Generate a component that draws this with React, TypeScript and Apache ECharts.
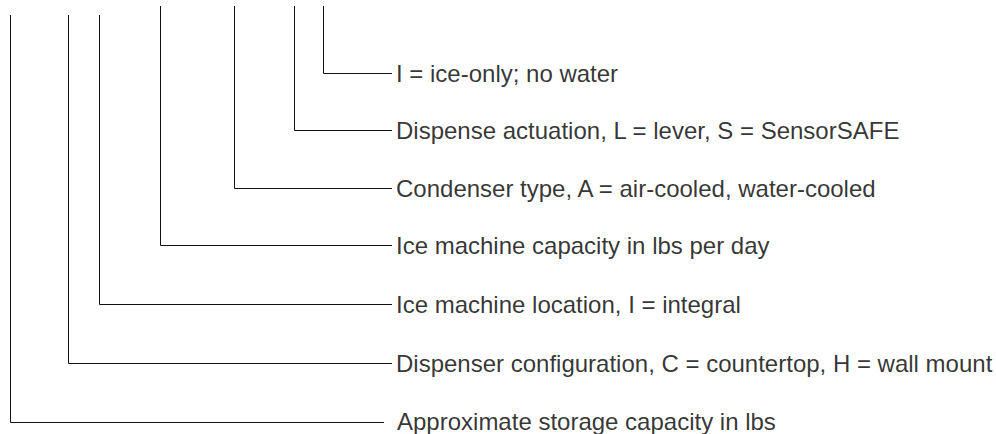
import React, { useEffect, useRef } from "react";
import * as echarts from "echarts";

// Labels, top to bottom
const labels: string[] = [
  "I = ice-only; no water",
  "Dispense actuation, L = lever, S = SensorSAFE",
  "Condenser type, A = air-cooled, water-cooled",
  "Ice machine capacity in lbs per day",
  "Ice machine location, I = integral",
  "Dispenser configuration, C = countertop, H = wall mount",
  "Approximate storage capacity in lbs",
];
// Leader column (x) for each label
const columnX: number[] = [323.5, 294.5, 234.5, 160.5, 99.5, 68.5, 10.5];
// Top of each vertical leader
const columnTop: number[] = [6, 6, 6, 6, 15, 15, 15];
// Row (y) of each label
const rowY: number[] = [73.5, 130.5, 188.5, 245.5, 304.5, 363.5, 422.5];
// End of each horizontal leader
const leaderEnd: number[] = [392, 392, 392, 392, 392, 392, 384];
// Text start
const textX: number[] = [396, 396, 396, 396, 396, 396, 397];
// Text vertical nudge
const textDy: number[] = [0, 0, 0, 0, 0, 0, -1.5];

const W = 996;
const H = 434;

export default function App() {
  const ref = useRef<HTMLDivElement>(null);
  useEffect(() => {
    if (!ref.current) return;
    const chart = echarts.init(ref.current, null, { renderer: "svg" });
    const lineSeries = labels.map((_, i) => ({
      type: "line",
      silent: true,
      symbol: "none",
      lineStyle: { color: "#111", width: 1 },
      data: [
        [columnX[i], columnTop[i]],
        [columnX[i], rowY[i]],
        [leaderEnd[i], rowY[i]],
      ],
    }));
    chart.setOption({
      animation: false,
      grid: { left: 0, right: 0, top: 0, bottom: 0 },
      xAxis: { type: "value", min: 0, max: W, show: false },
      yAxis: { type: "value", min: 0, max: H, inverse: true, show: false },
      series: [
        ...lineSeries,
        {
          type: "scatter",
          silent: true,
          symbolSize: 0,
          data: labels.map((l, i) => ({ name: l, value: [textX[i], rowY[i] + textDy[i]] })),
          label: {
            show: true,
            position: "inside",
            align: "left",
            verticalAlign: "middle",
            formatter: "{b}",
            color: "#000",
            fontFamily: "Liberation Sans, Arial, sans-serif",
            fontSize: 24,
            lineHeight: 21,
          },
        },
      ],
    } as any);
    return () => chart.dispose();
  }, []);
  return (
    <div
      ref={ref}
      style={{ position: "fixed", left: 0, top: 0, width: W, height: H, background: "#fff" }}
    />
  );
}
